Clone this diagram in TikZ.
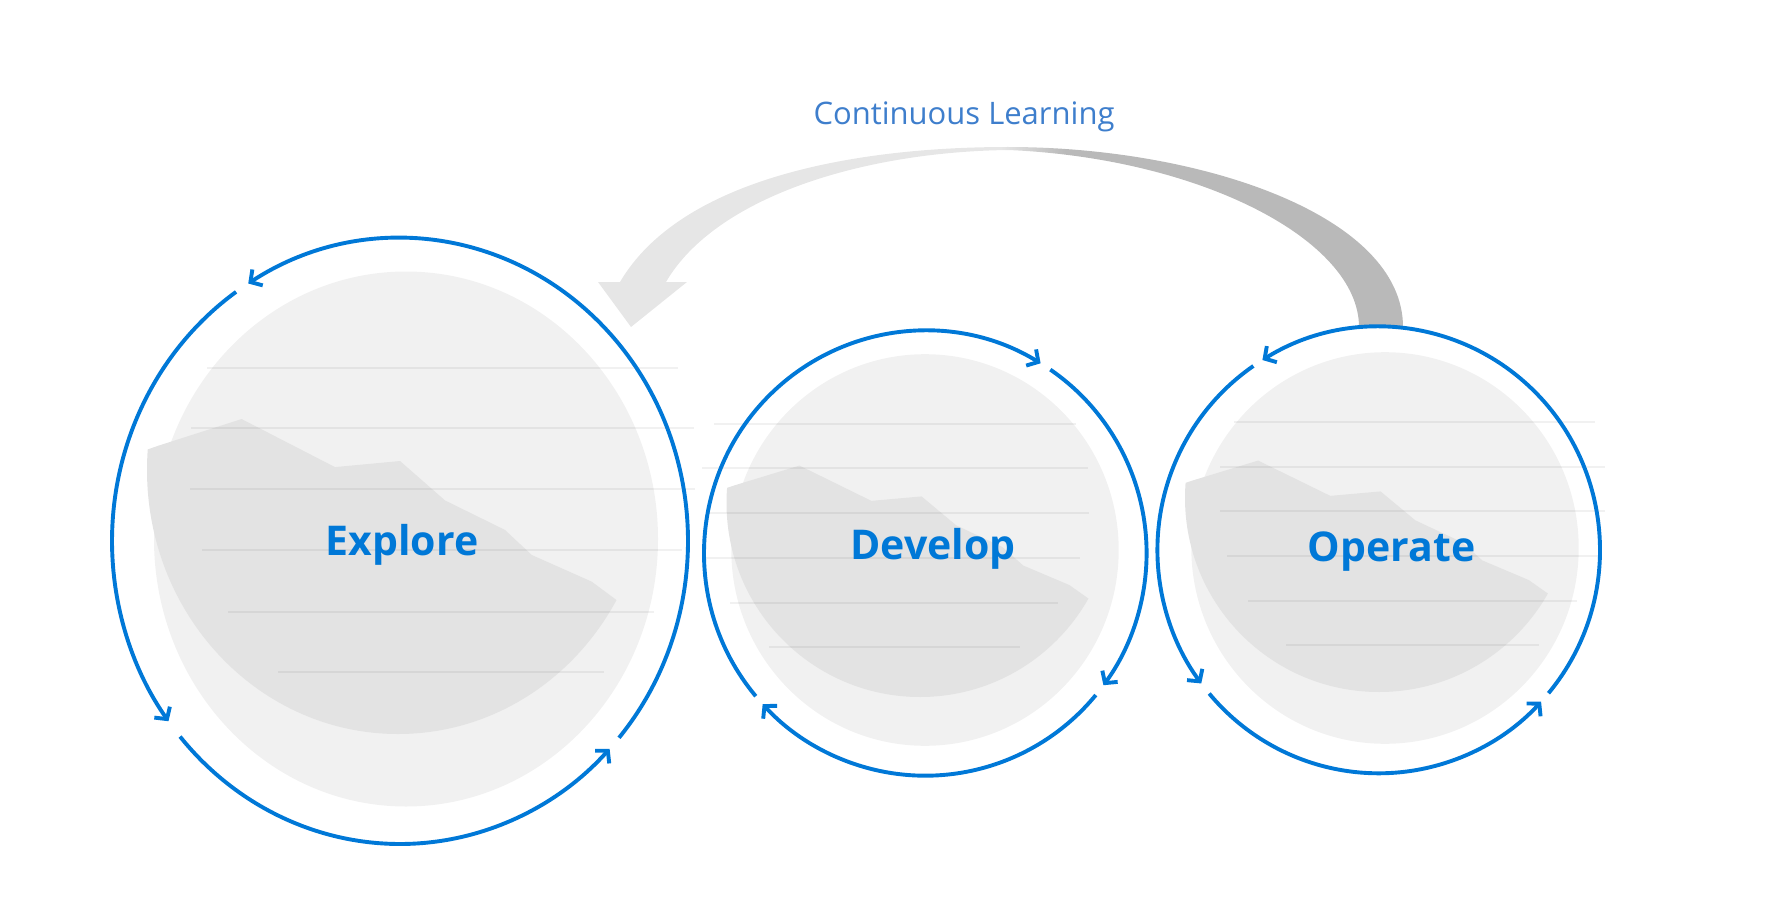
\documentclass[tikz,border=0pt]{standalone}
\usepackage{fontspec}
\setmainfont{Open Sans}
\usetikzlibrary{arrows.meta}

\definecolor{azure}{RGB}{0,120,215}
\definecolor{learnblue}{RGB}{62,126,204}
\definecolor{globegray}{RGB}{241,241,241}
\definecolor{hillgray}{RGB}{227,227,227}
\definecolor{arrowlight}{RGB}{230,230,230}
\definecolor{arrowdark}{RGB}{185,185,185}
\pgfdeclarehorizontalshading{learning}{100bp}{color(0bp)=(arrowlight); color(50bp)=(arrowlight); color(54bp)=(arrowdark); color(100bp)=(arrowdark)}

\tikzset{
  hill/.pic={
    \clip (0,0) circle[radius=1];
    \fill[hillgray] (-1.3,-0.078) -- (-0.997,-0.078) -- (-0.955,-0.092) -- (-0.623,-0.193) -- (-0.251,-0.011) -- (0.008,-0.034) -- (0.187,0.115) -- (0.426,0.227) -- (0.533,0.322) -- (0.772,0.423) -- (0.874,0.495) -- (1.3,0.8) -- (1.3,1.3) -- (-1.3,1.3) -- cycle;
  }
}

\begin{document}
\begin{tikzpicture}[x=1pt, y=-1pt,
  ring/.style={azure, line width=3.9pt, -{Straight Barb[length=8.5pt, width=19pt]}},
  lane/.style={black, opacity=0.055, line width=1.4pt},
  stage/.style={azure, font=\fontsize{41}{41}\selectfont\bfseries, anchor=base, inner sep=0pt}]
\useasboundingbox (0,0) rectangle (1787,909);

\shade[shading=learning] (631,327) -- (598,282) -- (620,282) .. controls (680,180) and (850,147) .. (1008,147) .. controls (1200,147) and (1403,215) .. (1403,327) -- (1359,327) .. controls (1359,240) and (1200,158) .. (1008,150) .. controls (860,152) and (715,198) .. (666,282) -- (687,282) -- cycle;
\node[learnblue, font=\fontsize{31}{31}\selectfont, anchor=base, inner sep=0pt] (learning) at (964,125) {Continuous Learning};

\fill[globegray] (406,539) ellipse [x radius=252, y radius=267.5];
\pic[xscale=251, yscale=264] at (398,470) {hill};
\draw[lane] (207,368) -- (678,368);
\draw[lane] (191,428) -- (694,428);
\draw[lane] (190,489) -- (695,489);
\draw[lane] (202,550) -- (682,550);
\draw[lane] (228,612) -- (654,612);
\draw[lane] (278,672) -- (604,672);
\draw[ring] (400,541) ++(40.5:288 and 303) arc[start angle=40.5, end angle=-121.8, x radius=288, y radius=303];
\draw[ring] (400,541) ++(-124.7:288 and 303) arc[start angle=-124.7, end angle=-216.5, x radius=288, y radius=303];
\draw[ring] (400,541) ++(-220.2:288 and 303) arc[start angle=-220.2, end angle=-316.7, x radius=288, y radius=303];
\node[stage] (explore) at (402,555) {Explore};

\fill[globegray] (925,550) ellipse [x radius=193.7, y radius=195.8];
\pic[xscale=193.5, yscale=194] at (920,503) {hill};
\draw[lane] (714,424) -- (1076,424);
\draw[lane] (702,468) -- (1088,468);
\draw[lane] (706,513) -- (1089,513);
\draw[lane] (707,558) -- (1080,558);
\draw[lane] (730,603) -- (1058,603);
\draw[lane] (769,647) -- (1020,647);
\draw[ring] (925.3,553.2) ++(-220:221.3 and 222.5) arc[start angle=-220, end angle=-58.6, x radius=221.3, y radius=222.5];
\draw[ring] (925.3,553.2) ++(-55.6:221.3 and 222.5) arc[start angle=-55.6, end angle=36.4, x radius=221.3, y radius=222.5];
\draw[ring] (925.3,553.2) ++(39.6:221.3 and 222.5) arc[start angle=39.6, end angle=137.3, x radius=221.3, y radius=222.5];
\node[stage] (develop) at (933,559) {Develop};

\fill[globegray] (1385,548) ellipse [x radius=193.7, y radius=195.8];
\pic[xscale=194, yscale=194] at (1379,498) {hill};
\draw[lane] (1234,422) -- (1595,422);
\draw[lane] (1220,467) -- (1605,467);
\draw[lane] (1220,511) -- (1605,511);
\draw[lane] (1227,556) -- (1597,556);
\draw[lane] (1248,601) -- (1577,601);
\draw[lane] (1286,645) -- (1539,645);
\draw[ring] (1378.7,550) ++(39.9:221.3 and 223.3) arc[start angle=39.9, end angle=-121.7, x radius=221.3, y radius=223.3];
\draw[ring] (1378.7,550) ++(-124.5:221.3 and 223.3) arc[start angle=-124.5, end angle=-216.7, x radius=221.3, y radius=223.3];
\draw[ring] (1378.7,550) ++(-220:221.3 and 223.3) arc[start angle=-220, end angle=-317.2, x radius=221.3, y radius=223.3];
\node[stage] (operate) at (1391.5,561.7) {Operate};
\end{tikzpicture}
\end{document}
